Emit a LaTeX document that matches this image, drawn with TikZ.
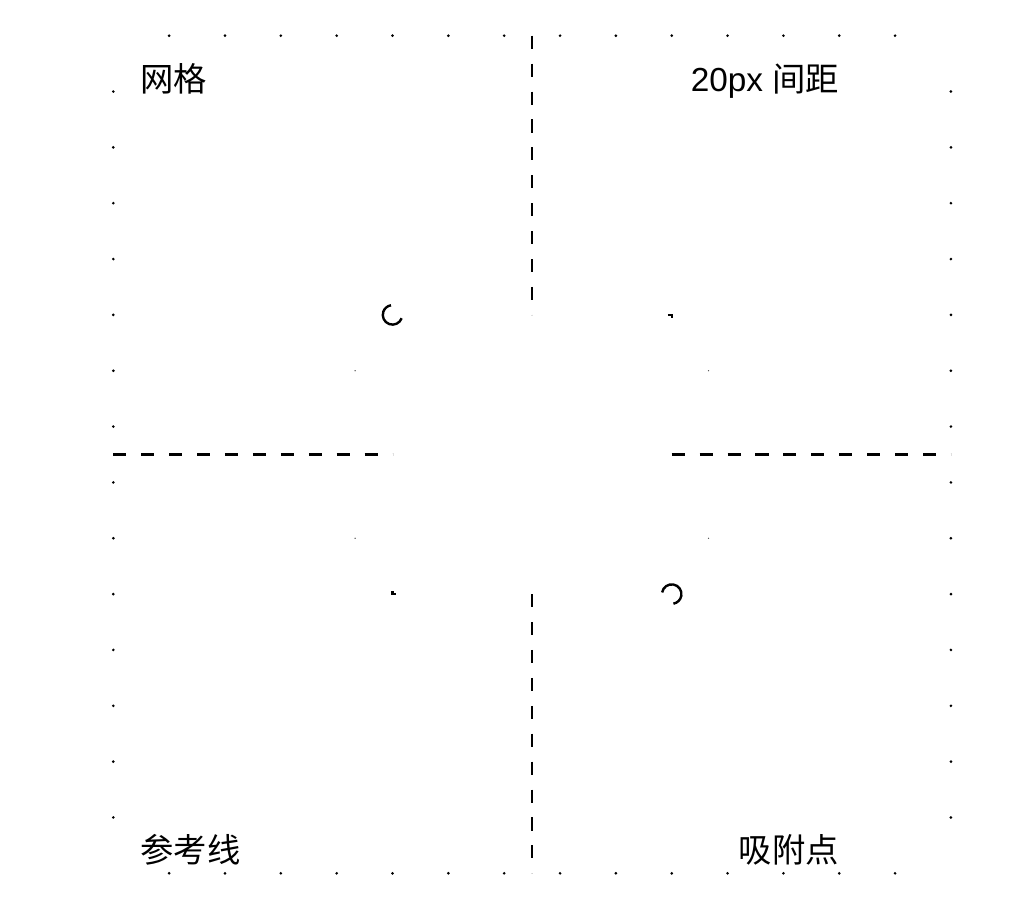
\documentclass[tikz,border=0pt]{standalone}
\usepackage{fontspec}
\setmainfont{Liberation Sans}
\newfontfamily\cjk{Noto Sans CJK SC}
\usetikzlibrary{calc}

\begin{document}
\begin{tikzpicture}[
    x=41.88pt, y=-41.88pt,
    % --- Grid and guide styles ---
    griddot/.style={fill=black},
    faintdot/.style={fill=black!70},
    guideline/.style={draw=black, line width=1.7pt,
        dash pattern=on 9.8pt off 11.14pt},
    snapmark/.style={draw=black, line width=1.8pt},
    cornerlbl/.style={font=\fontsize{25pt}{28pt}\selectfont,
        inner sep=0pt, text=black},
]
\useasboundingbox (-2.029,-0.639) rectangle (16.04,15.568);

% ---- Dot grid (border only) ----
\foreach \i in {1,...,14}{
    \fill[griddot] (\i,0)  circle (1.1pt);
    \fill[griddot] (\i,15) circle (1.1pt);
    \fill[griddot] (0,\i)  circle (1.1pt);
    \fill[griddot] (15,\i) circle (1.1pt);
}
\foreach \px/\py in {4.33/6, 4.33/9, 10.66/6, 10.66/9}{
    \fill[faintdot] (\px,\py) circle (0.5pt);
}

% ---- Guide line end points ----
\coordinate (vtop)    at (7.5,0);
\coordinate (vtopend) at (7.5,5);
\coordinate (vbot)    at (7.5,10);
\coordinate (vbotend) at (7.5,15);
\coordinate (hleft)    at (0,7.5);
\coordinate (hleftend) at (5,7.5);
\coordinate (hright)    at (10,7.5);
\coordinate (hrightend) at (15,7.5);

% ---- Dashed guide lines ----
\draw[guideline] (vtop)   -- (vtopend);
\draw[guideline] (vbot)   -- (vbotend);
\draw[guideline] (hleft)  -- (hleftend);
\draw[guideline] (hright) -- (hrightend);

% ---- Snap points ----
\coordinate (snapA) at (5,5);
\coordinate (snapB) at (10,10);
\draw[snapmark] ($(snapA)+(-20:7.3pt)$) arc[start angle=-20, end angle=-261, radius=7.3pt];
\draw[snapmark] ($(snapB)+(-190:7.3pt)$) arc[start angle=-190, end angle=-440, radius=7.3pt];
\draw[snapmark] (9.93,5) -- (10,5) -- (10,5.06);
\draw[snapmark] (5,9.95) -- (5,10) -- (5.07,10);

% ---- Corner labels ----
\node[cornerlbl, anchor=base west] (lblgrid)    at (0.48,1.0)    {\cjk 网格};
\node[cornerlbl, anchor=base east] (lblspacing) at (13.0,1.0)    {20px {\cjk 间距}};
\node[cornerlbl, anchor=base west] (lblguide)   at (0.48,14.815) {\cjk 参考线};
\node[cornerlbl, anchor=base east] (lblsnap)    at (13.0,14.815) {\cjk 吸附点};

\end{tikzpicture}
\end{document}
